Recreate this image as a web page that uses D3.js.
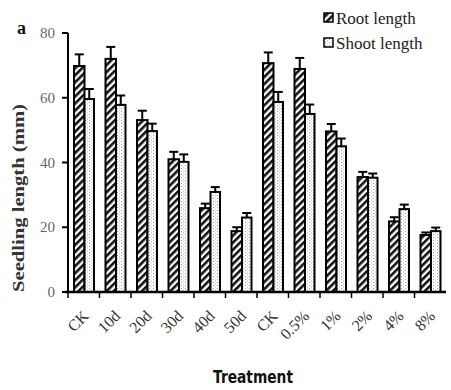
<!DOCTYPE html>
<html><head><meta charset="utf-8">
<script src="https://cdn.jsdelivr.net/npm/d3@7"></script>
<style>body{margin:0;background:#fff}svg{display:block}</style>
</head><body><div id="chart"></div>
<script>
const categories = ["CK","10d","20d","30d","40d","50d","CK","0.5%","1%","2%","4%","8%"];
const rootLength = [69.8,72,53.1,41,25.9,18.8,70.7,68.9,49.6,35.5,21.8,17.6];
const rootErr    = [3.6,3.7,2.9,2.3,1.4,1.2,3.3,3.4,2.3,1.6,1.3,0.8];
const shootLength= [59.6,57.8,49.7,40.2,30.9,23,58.7,55,45,35.3,25.6,18.8];
const shootErr   = [3.1,2.9,2.3,2.3,1.5,1.4,3.1,2.9,2.4,1.3,1.4,1.1];
const yTicks = [0,20,40,60,80];
const seriesNames = ["Root length","Shoot length"];

const W=451,H=390;
const svg=d3.select("#chart").append("svg").attr("width",W).attr("height",H);
const defs=svg.append("defs");
const hatch=defs.append("pattern").attr("id","hatch").attr("patternUnits","userSpaceOnUse")
  .attr("width",5).attr("height",5).attr("patternTransform","rotate(45)");
hatch.append("rect").attr("width",5).attr("height",5).attr("fill","#fff");
hatch.append("rect").attr("width",2.6).attr("height",5).attr("fill","#111");
const dots=defs.append("pattern").attr("id","dots").attr("patternUnits","userSpaceOnUse")
  .attr("width",4).attr("height",3);
dots.append("rect").attr("width",4).attr("height",3).attr("fill","#fff");
dots.append("rect").attr("x",1).attr("y",0).attr("width",1).attr("height",1).attr("fill","#999");
dots.append("rect").attr("x",3).attr("y",1.5).attr("width",1).attr("height",1).attr("fill","#bbb");

const x0=68,x1=446,yTop=33,yBot=292;
const x=d3.scaleBand().domain(d3.range(categories.length)).range([x0,x1]).padding(0);
const y=d3.scaleLinear().domain([0,80]).range([yBot,yTop]);
const bw=x.bandwidth();
const barW=10.5, off=6;

const tserif="'Liberation Serif','Times New Roman','DejaVu Serif',serif";

// y axis
svg.append("line").attr("x1",x0).attr("x2",x0).attr("y1",yTop).attr("y2",yBot+1).attr("stroke","#000").attr("stroke-width",2);
yTicks.forEach(t=>{
  svg.append("line").attr("x1",x0-6).attr("x2",x0).attr("y1",y(t)).attr("y2",y(t)).attr("stroke","#000").attr("stroke-width",2);
  svg.append("text").attr("x",x0-13).attr("y",y(t)+5).attr("text-anchor","end")
    .attr("font-family",tserif).attr("font-size",15).attr("fill","#666").text(t);
});

// bars
const g=svg.append("g");
categories.forEach((c,i)=>{
  const bx=x(i)+off;
  g.append("rect").attr("x",bx).attr("y",y(rootLength[i])).attr("width",barW)
    .attr("height",y(0)-y(rootLength[i])).attr("fill","url(#hatch)").attr("stroke","#000").attr("stroke-width",2);
  g.append("rect").attr("x",bx+barW).attr("y",y(shootLength[i])).attr("width",barW-1)
    .attr("height",y(0)-y(shootLength[i])).attr("fill","url(#dots)").attr("stroke","#000").attr("stroke-width",2);
  [[bx+barW/2,rootLength[i],rootErr[i]],[bx+barW+(barW-1)/2,shootLength[i],shootErr[i]]].forEach(([cx,v,e])=>{
    g.append("line").attr("x1",cx).attr("x2",cx).attr("y1",y(v)).attr("y2",y(v+e)).attr("stroke","#000").attr("stroke-width",2);
    g.append("line").attr("x1",cx-4.5).attr("x2",cx+4.5).attr("y1",y(v+e)).attr("y2",y(v+e)).attr("stroke","#000").attr("stroke-width",2);
  });
});

// x axis
svg.append("line").attr("x1",x0-3).attr("x2",x1).attr("y1",yBot).attr("y2",yBot).attr("stroke","#000").attr("stroke-width",2.5);
categories.forEach((c,i)=>{
  svg.append("line").attr("x1",x(i)).attr("x2",x(i)).attr("y1",yBot).attr("y2",yBot+6).attr("stroke","#000").attr("stroke-width",1.5);
  const cx=x(i)+bw/2+6, cy=yBot+25;
  svg.append("text").attr("transform",`translate(${cx},${cy}) rotate(-45)`).attr("text-anchor","end")
    .attr("font-family",tserif).attr("font-size",16).attr("fill","#333").text(c);
});

// axis titles
svg.append("text").attr("transform",`translate(24,198) rotate(-90)`).attr("text-anchor","middle")
  .attr("font-family",tserif).attr("font-weight","bold").attr("font-size",16)
  .attr("textLength",188).attr("lengthAdjust","spacingAndGlyphs").attr("fill","#333").text("Seedling length (mm)");
svg.append("text").attr("x",253).attr("y",383).attr("text-anchor","middle")
  .attr("font-family","'DejaVu Sans','Liberation Sans',sans-serif").attr("font-weight","bold")
  .attr("font-size",18).attr("textLength",80).attr("lengthAdjust","spacingAndGlyphs").attr("fill","#111").text("Treatment");
svg.append("text").attr("x",17).attr("y",34).attr("font-family",tserif).attr("font-weight","bold")
  .attr("font-size",18).attr("fill","#111").text("a");

// legend
const fills=["url(#hatch)","url(#dots)"];
seriesNames.forEach((s,i)=>{
  const ly=13+i*25;
  svg.append("rect").attr("x",324).attr("y",ly).attr("width",9).attr("height",9).attr("fill",fills[i]).attr("stroke","#000").attr("stroke-width",1.5);
  svg.append("text").attr("x",336).attr("y",ly+11).attr("font-family",tserif).attr("font-size",17).attr("fill","#222").text(s);
});
</script></body></html>
